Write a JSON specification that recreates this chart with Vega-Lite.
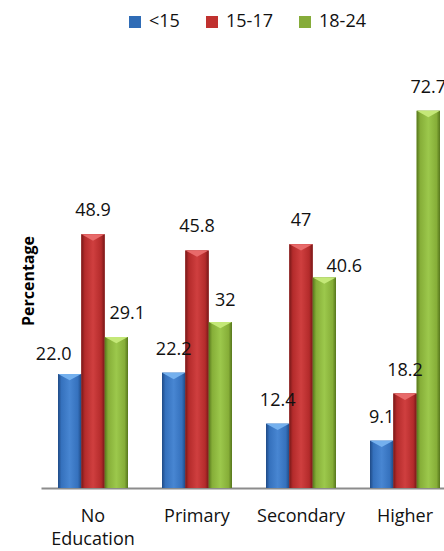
{
  "$schema": "https://vega.github.io/schema/vega-lite/v6.json",
  "width": 403,
  "height": 415,
  "autosize": {"type": "none"},
  "padding": {"left": 41, "top": 73, "right": 0, "bottom": 63},
  "background": "white",
  "config": {"view": {"stroke": null}, "font": "Open Sans"},
  "data": {
    "values": [
      {"edu": "No Education", "age": "<15", "value": 22.0, "label": "22.0"},
      {"edu": "No Education", "age": "15-17", "value": 48.9, "label": "48.9"},
      {"edu": "No Education", "age": "18-24", "value": 29.1, "label": "29.1"},
      {"edu": "Primary", "age": "<15", "value": 22.2, "label": "22.2"},
      {"edu": "Primary", "age": "15-17", "value": 45.8, "label": "45.8"},
      {"edu": "Primary", "age": "18-24", "value": 32, "label": "32"},
      {"edu": "Secondary", "age": "<15", "value": 12.4, "label": "12.4"},
      {"edu": "Secondary", "age": "15-17", "value": 47, "label": "47"},
      {"edu": "Secondary", "age": "18-24", "value": 40.6, "label": "40.6"},
      {"edu": "Higher", "age": "<15", "value": 9.1, "label": "9.1"},
      {"edu": "Higher", "age": "15-17", "value": 18.2, "label": "18.2"},
      {"edu": "Higher", "age": "18-24", "value": 72.7, "label": "72.7"}
    ]
  },
  "encoding": {
    "x": {
      "field": "edu",
      "type": "nominal",
      "sort": ["No Education", "Primary", "Secondary", "Higher"],
      "scale": {"range": [0, 416], "paddingInner": 0.327, "paddingOuter": 0.1635},
      "axis": {
        "title": null,
        "domain": true,
        "domainColor": "#8c8c8c",
        "domainWidth": 2,
        "ticks": false,
        "tickSize": 0,
        "labelPadding": 19,
        "labelAngle": 0,
        "labelFont": "Open Sans",
        "labelFontSize": 18,
        "labelColor": "#111111",
        "labelLineHeight": 23,
        "labelOverlap": false,
        "labelBound": false,
        "labelExpr": "datum.label == 'No Education' ? ['No', 'Education'] : datum.label"
      }
    },
    "xOffset": {"field": "age", "type": "nominal", "sort": ["<15", "15-17", "18-24"]},
    "y": {
      "field": "value",
      "type": "quantitative",
      "scale": {"domain": [0, 80]},
      "axis": {
        "title": "Percentage",
        "domain": false,
        "ticks": false,
        "labels": false,
        "grid": false,
        "titleFont": "Open Sans",
        "titleFontSize": 16,
        "titleFontWeight": "bold",
        "titleColor": "#000000",
        "titlePadding": 5
      }
    }
  },
  "layer": [
    {
      "mark": {"type": "bar"},
      "encoding": {
        "color": {
          "field": "age",
          "type": "nominal",
          "sort": ["<15", "15-17", "18-24"],
          "scale": {"domain": ["<15", "15-17", "18-24"], "range": ["#2f6cb6", "#c0312f", "#86ac3a"]},
          "legend": {
            "orient": "none",
            "legendX": 85,
            "legendY": -60,
            "direction": "horizontal",
            "title": null,
            "symbolType": "square",
            "symbolSize": 144,
            "symbolStrokeWidth": 0,
            "labelFont": "Open Sans",
            "labelFontSize": 18,
            "labelColor": "#111111",
            "labelOffset": 5,
            "columnPadding": 23,
            "padding": 0
          }
        }
      }
    },
    {
      "transform": [{"filter": "datum.age == '<15'"}],
      "mark": {
        "type": "bar",
        "color": {
          "gradient": "linear", "x1": 0, "x2": 1, "y1": 0, "y2": 0,
          "stops": [
            {"offset": 0, "color": "#1f4a85"},
            {"offset": 0.15, "color": "#3571bd"},
            {"offset": 0.5, "color": "#4886d2"},
            {"offset": 0.85, "color": "#3571bd"},
            {"offset": 1, "color": "#1f4a85"}
          ]
        }
      }
    },
    {
      "transform": [{"filter": "datum.age == '15-17'"}],
      "mark": {
        "type": "bar",
        "color": {
          "gradient": "linear", "x1": 0, "x2": 1, "y1": 0, "y2": 0,
          "stops": [
            {"offset": 0, "color": "#761818"},
            {"offset": 0.15, "color": "#b42b2b"},
            {"offset": 0.5, "color": "#cf3f3f"},
            {"offset": 0.85, "color": "#b42b2b"},
            {"offset": 1, "color": "#761818"}
          ]
        }
      }
    },
    {
      "transform": [{"filter": "datum.age == '18-24'"}],
      "mark": {
        "type": "bar",
        "color": {
          "gradient": "linear", "x1": 0, "x2": 1, "y1": 0, "y2": 0,
          "stops": [
            {"offset": 0, "color": "#56761c"},
            {"offset": 0.15, "color": "#86ae38"},
            {"offset": 0.5, "color": "#9cc84c"},
            {"offset": 0.85, "color": "#86ae38"},
            {"offset": 1, "color": "#56761c"}
          ]
        }
      }
    },
    {
      "transform": [{"filter": "datum.age == '<15'"}],
      "mark": {"type": "point", "shape": "M-1,0L0,0.55L1,0Z", "size": 529, "filled": true, "opacity": 1, "color": "#74b0ee", "strokeWidth": 0}
    },
    {
      "transform": [{"filter": "datum.age == '15-17'"}],
      "mark": {"type": "point", "shape": "M-1,0L0,0.55L1,0Z", "size": 529, "filled": true, "opacity": 1, "color": "#e86a6a", "strokeWidth": 0}
    },
    {
      "transform": [{"filter": "datum.age == '18-24'"}],
      "mark": {"type": "point", "shape": "M-1,0L0,0.55L1,0Z", "size": 529, "filled": true, "opacity": 1, "color": "#c4e878", "strokeWidth": 0}
    },
    {
      "transform": [{"filter": "indexof(['22.0', '29.1', '32', '40.6'], datum.label) < 0"}],
      "mark": {"type": "text", "baseline": "middle", "dy": -23, "fontSize": 18, "font": "Open Sans", "color": "#111111"},
      "encoding": {"text": {"field": "label"}}
    },
    {
      "transform": [{"filter": "datum.label == '22.0'"}],
      "mark": {"type": "text", "baseline": "middle", "dx": -16, "dy": -19, "fontSize": 18, "font": "Open Sans", "color": "#111111"},
      "encoding": {"text": {"field": "label"}}
    },
    {
      "transform": [{"filter": "datum.label == '29.1'"}],
      "mark": {"type": "text", "baseline": "middle", "dx": 11, "dy": -23, "fontSize": 18, "font": "Open Sans", "color": "#111111"},
      "encoding": {"text": {"field": "label"}}
    },
    {
      "transform": [{"filter": "datum.label == '32'"}],
      "mark": {"type": "text", "baseline": "middle", "dx": 5, "dy": -21, "fontSize": 18, "font": "Open Sans", "color": "#111111"},
      "encoding": {"text": {"field": "label"}}
    },
    {
      "transform": [{"filter": "datum.label == '40.6'"}],
      "mark": {"type": "text", "baseline": "middle", "dx": 20, "dy": -10, "fontSize": 18, "font": "Open Sans", "color": "#111111"},
      "encoding": {"text": {"field": "label"}}
    }
  ]
}
